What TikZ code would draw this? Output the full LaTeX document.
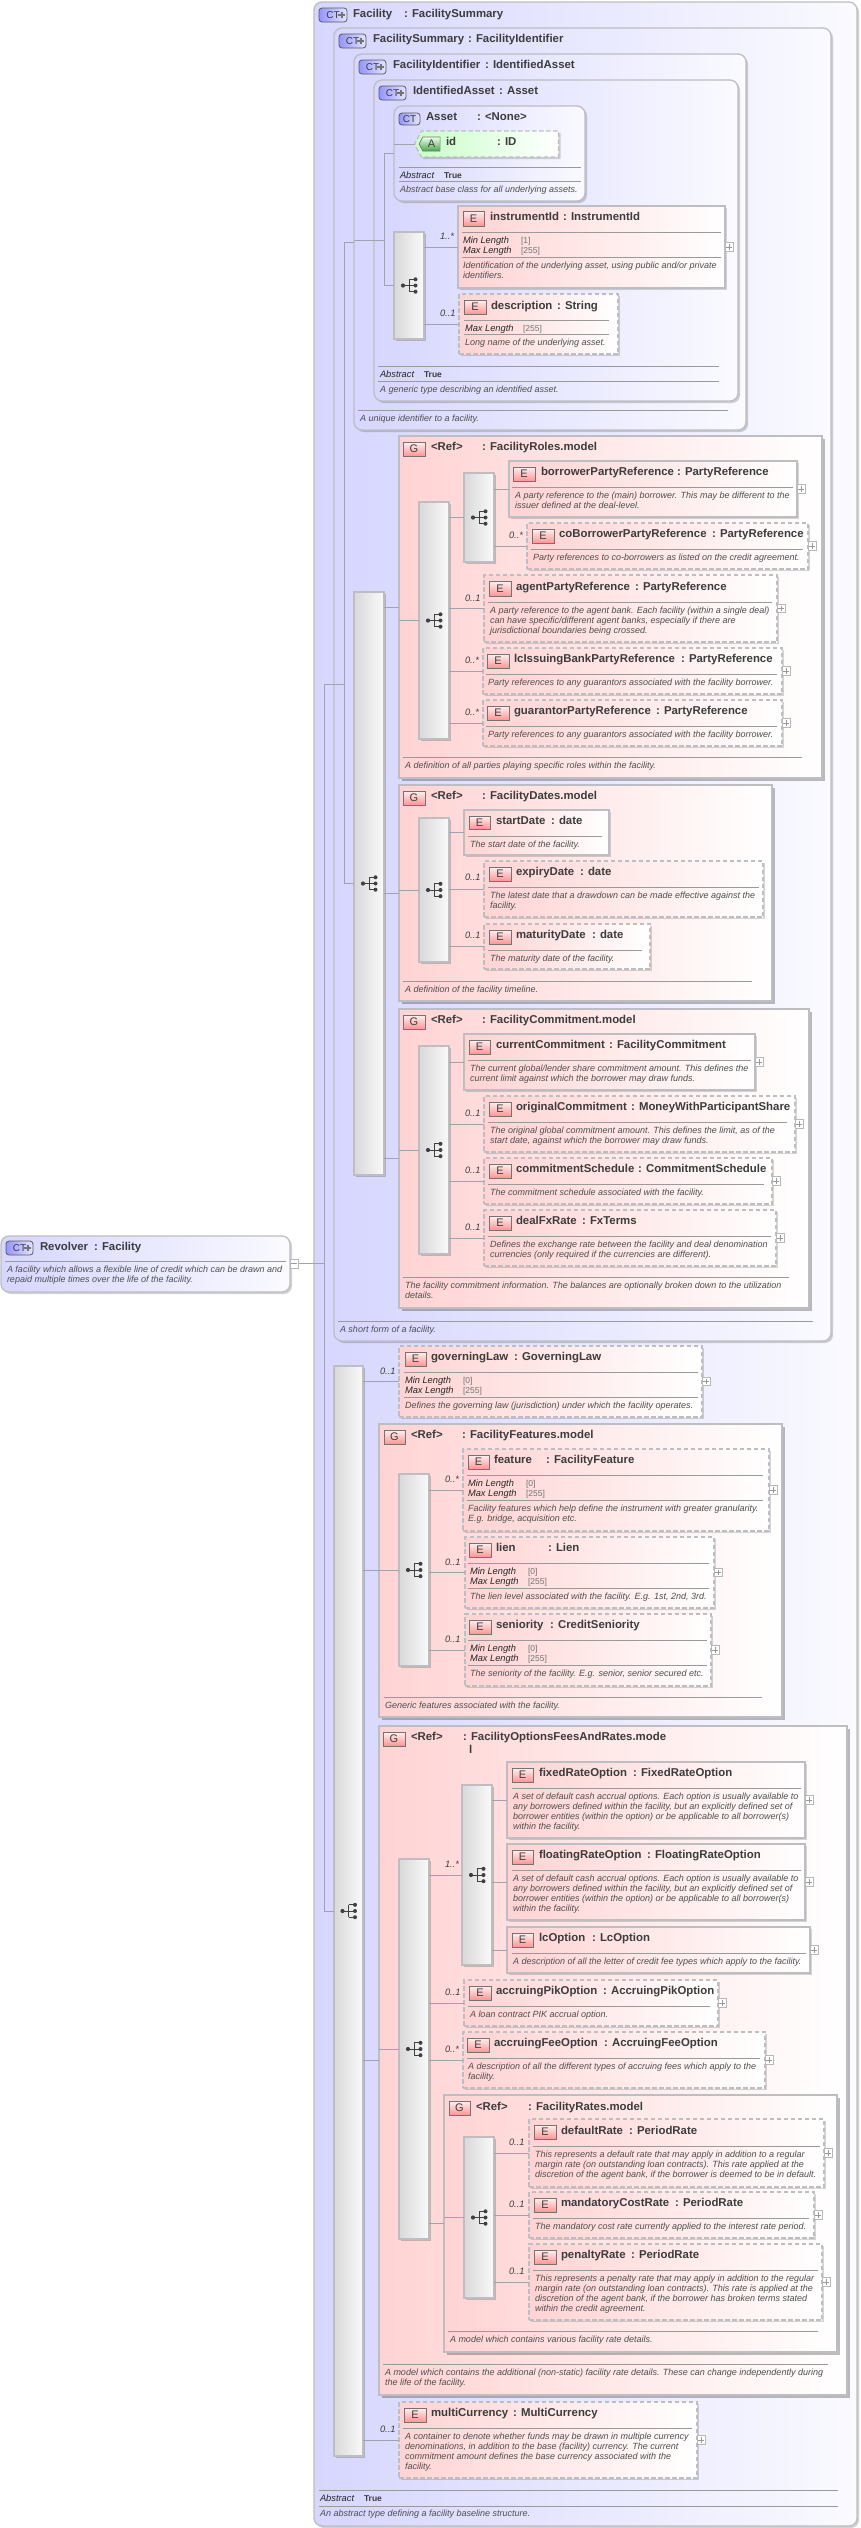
\documentclass[tikz,border=0pt]{standalone}
\usepackage{fontspec}
\setmainfont{Liberation Sans}
\usetikzlibrary{shadows,shapes.symbols,calc}
\definecolor{ctL}{HTML}{D6D6FF}\definecolor{ctR}{HTML}{FAFAFF}
\definecolor{elL}{HTML}{FFD3D3}\definecolor{elR}{HTML}{FFFFFF}
\definecolor{bdr}{HTML}{BDBDC2}\definecolor{lnc}{HTML}{A2A2AE}
\definecolor{rlc}{HTML}{9A9A9A}\definecolor{ttc}{HTML}{3C3C3C}
\definecolor{dsc}{HTML}{4E4E4E}
\tikzset{
 x=1pt,y=-1pt,
 txt/.style={inner sep=0pt,outer sep=0pt,anchor=west,text height=8pt,text depth=2pt},
 ttltext/.style={txt,font=\fontsize{11.4}{12}\selectfont\bfseries,text=ttc},
 dsctext/.style={txt,font=\fontsize{9}{10}\selectfont\itshape,text=dsc},
 multext/.style={txt,font=\fontsize{9.3}{10}\selectfont\itshape,text=ttc},
 prptext/.style={txt,font=\fontsize{9.3}{10}\selectfont\itshape,text=black!85},
 valtext/.style={txt,font=\fontsize{8.5}{10}\selectfont,text=black!55},
 trutext/.style={txt,font=\fontsize{8.5}{10}\selectfont\bfseries,text=ttc},
 boxbase/.style={inner sep=0pt,outer sep=0pt,anchor=north west},
 cont/.style={boxbase,draw=bdr,line width=1.3pt,rounded corners=8pt,left color=ctL,right color=ctR,
   drop shadow={shadow xshift=2pt,shadow yshift=-2pt,opacity=.18,fill=black}},
 grp/.style={boxbase,draw=bdr,line width=1.3pt,left color=elL,right color=elR,
   drop shadow={shadow xshift=2.5pt,shadow yshift=-2.5pt,opacity=.26,fill=black}},
 elemS/.style={boxbase,draw=bdr,line width=1.3pt,left color=elL,right color=elR,
   drop shadow={shadow xshift=2pt,shadow yshift=-2pt,opacity=.16,fill=black}},
 elemD/.style={elemS,dash pattern=on 4.5pt off 2.5pt},
 seqbar/.style={boxbase,draw=bdr,line width=1.2pt,left color=black!15,right color=black!2,
   drop shadow={shadow xshift=1.5pt,shadow yshift=-1.5pt,opacity=.2,fill=black}},
 conn/.style={draw=lnc,line width=.8pt},
 rulel/.style={draw=rlc,line width=.7pt},
 eicon/.style={boxbase,draw=black!55,line width=.7pt,top color=red!6,bottom color=red!42,
   font=\fontsize{11}{12}\selectfont,text=ttc},
 ctbase/.style={boxbase,draw=black!65,line width=.8pt,rounded corners=3pt,left color=blue!42!white,right color=blue!10!white,
   font=\fontsize{10}{12}\selectfont,text=ttc},
 ctplus/.style={ctbase,path picture={
   \draw[line width=2pt,black!55] ([xshift=-8.6pt]path picture bounding box.east) -- ([xshift=-2.4pt]path picture bounding box.east);
   \draw[line width=2pt,black!55] ([xshift=-5.5pt,yshift=3.1pt]path picture bounding box.east) -- ([xshift=-5.5pt,yshift=-3.1pt]path picture bounding box.east);}},
 plusbtn/.style={inner sep=0pt,outer sep=0pt,anchor=west,draw=black!28,line width=.6pt,fill=white,minimum width=8.5pt,minimum height=8.5pt,
   path picture={
   \draw[black!40,line width=.6pt] ([xshift=-2.8pt]path picture bounding box.center) -- ([xshift=2.8pt]path picture bounding box.center);
   \draw[black!40,line width=.6pt] ([yshift=-2.8pt]path picture bounding box.center) -- ([yshift=2.8pt]path picture bounding box.center);}},
 minusbtn/.style={inner sep=0pt,outer sep=0pt,anchor=west,draw=black!28,line width=.6pt,fill=white,minimum width=8.5pt,minimum height=9pt,
   path picture={
   \draw[black!40,line width=.6pt] ([xshift=-2.8pt]path picture bounding box.center) -- ([xshift=2.8pt]path picture bounding box.center);}},
 seqicon/.pic={
   \draw[black!75,line width=.9pt] (-6,0) -- (6.5,0) (0,-6.2) -- (0,6.2) (0,-6.2) -- (6.5,-6.2) (0,6.2) -- (6.5,6.2);
   \fill[black!75] (-6,0) circle[radius=2.1] (6.5,0) circle[radius=2] (6.5,-6.2) circle[radius=2] (6.5,6.2) circle[radius=2];
 },
}
\newcount\tcnt
\newcommand{\xLbl}[4]{\global\advance\tcnt by 1 \node[#1] (t\the\tcnt) at (#2,#3) {#4};}
\newcommand{\xBox}[6]{\node[#2,minimum width={(#5-#3)*1pt},minimum height={(#6-#4)*1pt}] (#1) at (#3,#4) {};}
\newcommand{\xBar}[5]{\xBox{#1}{seqbar}{#2}{#3}{#4}{#5}\pic at (#1.center) {seqicon};}
\newcommand{\xIc}[6][eicon]{\global\advance\tcnt by 1 \node[#1,minimum width={(#4-#3)*1pt},minimum height={(#6-#5)*1pt}] (i\the\tcnt) at (#3,#5) {#2};}
\newcommand{\xTit}[5]{\xLbl{ttltext}{#1}{#2}{#3}\xLbl{ttltext}{#4}{#2}{: #5}}
\newcommand{\xDs}[3]{\xLbl{dsctext}{#1}{#2}{#3}}
\newcommand{\xMu}[3]{\xLbl{multext}{#1}{#2}{#3}}
\newcommand{\xPp}[5]{\xLbl{prptext}{#1}{#2}{#3}\xLbl{valtext}{#4}{#2}{#5}}
\newcommand{\xAb}[3]{\xLbl{prptext}{#1}{#2}{Abstract}\xLbl{trutext}{#3}{#2}{True}}
\newcommand{\xRu}[3]{\draw[rulel] (#1,#3) -- (#2,#3);}
\newcommand{\xCn}[2]{\draw[conn] (#1.east |- #2.west) -- (#2.west);}
\newcommand{\xCg}[2]{\draw[conn] (#1.west |- #2.west) -- (#2.west);}
\newcommand{\xPb}[1]{\node[plusbtn] (#1btn) at (#1.east) {};}
\begin{document}
\begin{tikzpicture}
\useasboundingbox (0,0) rectangle (861,2528);
% ---------- Revolver
\xBox{revolver}{cont}{1}{1236}{290}{1292}
\node[minusbtn] (rvbtn) at (290,1263.5) {};
\xIc[ctplus]{CT\hspace{7pt}}{6}{33}{1241}{1255}
\xTit{40}{1247}{Revolver}{94}{Facility}
\xRu{5}{286}{1261}
\xDs{7}{1269}{A facility which allows a flexible line of credit which can be drawn and}
\xDs{7}{1279}{repaid multiple times over the life of the facility.}
% ---------- containers
\xBox{facility}{cont}{314}{2}{857}{2526}
\xBox{fsum}{cont}{334}{28}{831}{1341}
\xBox{fident}{cont}{354}{54}{746}{430}
\xBox{iasset}{cont}{374}{80}{738}{401}
\xBox{asset}{cont}{394}{106}{585}{201}
\xIc[ctplus]{CT\hspace{7pt}}{319}{347}{8}{22}
\xTit{353}{14}{Facility}{404}{FacilitySummary}
\xIc[ctplus]{CT\hspace{7pt}}{339}{366}{34}{48}
\xTit{373}{39.5}{FacilitySummary}{468}{FacilityIdentifier}
\xIc[ctplus]{CT\hspace{7pt}}{359}{386}{60}{74}
\xTit{393}{65.5}{FacilityIdentifier}{485}{IdentifiedAsset}
\xIc[ctplus]{CT\hspace{7pt}}{379}{406}{86}{100}
\xTit{413}{91.5}{IdentifiedAsset}{499}{Asset}
\xIc[ctbase]{CT}{399}{420}{113}{125}
\xTit{426}{117.5}{Asset}{477}{<None>}
% attribute id
\node[signal,signal to=west,signal pointer angle=124,inner sep=0pt,outer sep=0pt,draw=bdr,line width=1.2pt,dash pattern=on 4.5pt off 2.5pt,
  left color=green!22,right color=white,minimum width=144pt,minimum height=26pt,
  drop shadow={shadow xshift=2pt,shadow yshift=-2pt,opacity=.16,fill=black}] (attrid) at (490,144) {};
\node[signal,signal to=west,signal pointer angle=124,inner sep=0pt,outer sep=0pt,draw=black!55,line width=.7pt,top color=green!8,bottom color=green!50!black!70,
  minimum width=21pt,minimum height=14pt,font=\fontsize{11}{12}\selectfont,text=ttc] (attricon) at (431.5,144) {\rule{0pt}{6pt}A};
\xTit{446}{142.5}{id}{497}{ID}
\xRu{399}{581}{167.5}
\xAb{400}{175}{444}
\xRu{399}{581}{181.5}
\xDs{400}{189}{Abstract base class for all underlying assets.}
% seq 0
\xBar{bar0}{394}{232}{424}{339}
\xBox{instrumentId}{elemS}{458}{206}{725}{288}
\xPb{instrumentId}
\xIc{E}{463}{484}{211}{226}
\xTit{490}{217.5}{instrumentId}{563}{InstrumentId}
\xRu{462}{721}{232.5}
\xPp{463}{240}{Min Length}{521}{[1]}
\xPp{463}{250}{Max Length}{521}{[255]}
\xRu{462}{721}{257.5}
\xDs{463}{265}{Identification of the underlying asset, using public and/or private}
\xDs{463}{275}{identifiers.}
\xMu{440}{236}{1..*}
\xBox{description}{elemD}{459}{294}{618}{354}
\xIc{E}{464}{486}{300}{314}
\xTit{491}{306}{description}{557}{String}
\xRu{464}{609}{320.5}
\xPp{465}{328}{Max Length}{523}{[255]}
\xRu{464}{609}{334.5}
\xDs{465}{342}{Long name of the underlying asset.}
\xMu{440}{313}{0..1}
\xRu{378}{719}{366.5}
\xAb{380}{374}{424}
\xRu{378}{719}{381.5}
\xDs{380}{389}{A generic type describing an identified asset.}
\xRu{358}{728}{410}
\xDs{360}{418}{A unique identifier to a facility.}
% ---------- first big sequence
\xBar{bar1}{354}{592}{384}{1175}
% FacilityRoles
\xBox{rolesG}{grp}{399}{436}{822}{778}
\xIc{G}{403}{425}{442}{456}
\xTit{431}{447.5}{<Ref>}{482}{FacilityRoles.model}
\xBar{bar2}{419}{502}{449}{739}
\xBar{bar3}{464}{473}{494}{562}
\xBox{borrower}{elemS}{509}{461}{797}{517}\xPb{borrower}
\xIc{E}{513}{535}{467}{481}
\xTit{541}{472.5}{borrowerPartyReference}{677}{PartyReference}
\xRu{512}{793}{487.5}
\xDs{515}{495}{A party reference to the (main) borrower. This may be different to the}
\xDs{515}{505}{issuer defined at the deal-level.}
\xBox{coBorrower}{elemD}{527}{523}{808}{569}\xPb{coBorrower}
\xIc{E}{532}{554}{529}{543}
\xTit{559}{534.5}{coBorrowerPartyReference}{712}{PartyReference}
\xRu{531}{803}{549.5}
\xDs{533}{557}{Party references to co-borrowers as listed on the credit agreement.}
\xMu{509}{535}{0..*}
\xBox{agent}{elemD}{484}{575}{777}{642}\xPb{agent}
\xIc{E}{489}{511}{581}{596}
\xTit{516}{587.5}{agentPartyReference}{635}{PartyReference}
\xRu{488}{772}{602.5}
\xDs{490}{610}{A party reference to the agent bank. Each facility (within a single deal)}
\xDs{490}{620}{can have specific/different agent banks, especially if there are}
\xDs{490}{630}{jurisdictional boundaries being crossed.}
\xMu{465}{598}{0..1}
\xBox{lcIssuing}{elemD}{483}{648}{782}{694}\xPb{lcIssuing}
\xIc{E}{487}{509}{654}{668}
\xTit{514}{659.5}{lcIssuingBankPartyReference}{681}{PartyReference}
\xRu{486}{777}{674.5}
\xDs{488}{682}{Party references to any guarantors associated with the facility borrower.}
\xMu{465}{660}{0..*}
\xBox{guarantor}{elemD}{483}{700}{782}{746}\xPb{guarantor}
\xIc{E}{487}{509}{706}{720}
\xTit{514}{711.5}{guarantorPartyReference}{656}{PartyReference}
\xRu{486}{777}{726.5}
\xDs{488}{734}{Party references to any guarantors associated with the facility borrower.}
\xMu{465}{712}{0..*}
\xRu{403}{802}{757.5}
\xDs{405}{765}{A definition of all parties playing specific roles within the facility.}
% FacilityDates
\xBox{datesG}{grp}{399}{785}{772}{1001}
\xIc{G}{403}{425}{791}{805}
\xTit{431}{796.5}{<Ref>}{482}{FacilityDates.model}
\xBar{bar4}{419}{818}{449}{962}
\xBox{startDate}{elemS}{464}{810}{609}{855}
\xIc{E}{469}{490}{816}{829}
\xTit{496}{821.5}{startDate}{551}{date}
\xRu{468}{602}{836.5}
\xDs{470}{844}{The start date of the facility.}
\xBox{expiryDate}{elemD}{484}{861}{763}{917}
\xIc{E}{489}{511}{867}{881}
\xTit{516}{872.5}{expiryDate}{580}{date}
\xRu{488}{759}{887.5}
\xDs{490}{895}{The latest date that a drawdown can be made effective against the}
\xDs{490}{905}{facility.}
\xMu{465}{877.5}{0..1}
\xBox{maturityDate}{elemD}{484}{924}{650}{969}
\xIc{E}{489}{511}{930}{944}
\xTit{516}{935.5}{maturityDate}{592}{date}
\xRu{488}{642}{950.5}
\xDs{490}{958}{The maturity date of the facility.}
\xMu{465}{935}{0..1}
\xRu{403}{752}{981}
\xDs{405}{989}{A definition of the facility timeline.}
% FacilityCommitment
\xBox{commitG}{grp}{399}{1009}{809}{1308}
\xIc{G}{403}{425}{1015}{1029}
\xTit{431}{1020.5}{<Ref>}{482}{FacilityCommitment.model}
\xBar{bar5}{419}{1046}{449}{1254}
\xBox{current}{elemS}{464}{1034}{755}{1090}\xPb{current}
\xIc{E}{469}{490}{1040}{1054}
\xTit{496}{1045.5}{currentCommitment}{609}{FacilityCommitment}
\xRu{468}{751}{1060.5}
\xDs{470}{1068}{The current global/lender share commitment amount. This defines the}
\xDs{470}{1078}{current limit against which the borrower may draw funds.}
\xBox{original}{elemD}{484}{1096}{795}{1152}\xPb{original}
\xIc{E}{489}{511}{1102}{1116}
\xTit{516}{1107.5}{originalCommitment}{631}{MoneyWithParticipantShare}
\xRu{488}{787}{1122.5}
\xDs{490}{1130}{The original global commitment amount. This defines the limit, as of the}
\xDs{490}{1140}{start date, against which the borrower may draw funds.}
\xMu{465}{1113}{0..1}
\xBox{schedule}{elemD}{484}{1158}{772}{1204}\xPb{schedule}
\xIc{E}{489}{511}{1164}{1178}
\xTit{516}{1169.5}{commitmentSchedule}{638}{CommitmentSchedule}
\xRu{488}{764}{1184.5}
\xDs{490}{1192}{The commitment schedule associated with the facility.}
\xMu{465}{1170}{0..1}
\xBox{dealFx}{elemD}{484}{1210}{776}{1266}\xPb{dealFx}
\xIc{E}{489}{511}{1216}{1230}
\xTit{516}{1221.5}{dealFxRate}{582}{FxTerms}
\xRu{488}{771}{1236.5}
\xDs{490}{1244}{Defines the exchange rate between the facility and deal denomination}
\xDs{490}{1254}{currencies (only required if the currencies are different).}
\xMu{465}{1227}{0..1}
\xRu{403}{789}{1277.5}
\xDs{405}{1285}{The facility commitment information. The balances are optionally broken down to the utilization}
\xDs{405}{1295}{details.}
\xRu{338}{813}{1321}
\xDs{340}{1329}{A short form of a facility.}
% ---------- main sequence
\xBar{mainbar}{334}{1366}{363}{2456}
\xBox{governing}{elemD}{399}{1346}{702}{1417}\xPb{governing}
\xIc{E}{405}{426}{1352}{1366}
\xTit{431}{1357.5}{governingLaw}{514}{GoverningLaw}
\xRu{404}{698}{1372.5}
\xPp{405}{1380}{Min Length}{463}{[0]}
\xPp{405}{1390}{Max Length}{463}{[255]}
\xRu{404}{698}{1397.5}
\xDs{405}{1405}{Defines the governing law (jurisdiction) under which the facility operates.}
\xMu{380}{1371}{0..1}
% FacilityFeatures
\xBox{featG}{grp}{379}{1424}{782}{1717}
\xIc{G}{384}{405}{1430}{1444}
\xTit{411}{1435.5}{<Ref>}{462}{FacilityFeatures.model}
\xBar{bar6}{399}{1474}{429}{1666}
\xBox{feature}{elemD}{463}{1449}{769}{1531}\xPb{feature}
\xIc{E}{468}{489}{1455}{1469}
\xTit{494}{1460.5}{feature}{546}{FacilityFeature}
\xRu{467}{763}{1475.5}
\xPp{468}{1483}{Min Length}{526}{[0]}
\xPp{468}{1493}{Max Length}{526}{[255]}
\xRu{467}{763}{1500.5}
\xDs{468}{1508}{Facility features which help define the instrument with greater granularity.}
\xDs{468}{1518}{E.g. bridge, acquisition etc.}
\xMu{445}{1479}{0..*}
\xBox{lien}{elemD}{465}{1537}{714}{1608}\xPb{lien}
\xIc{E}{469}{491}{1543}{1557}
\xTit{496}{1548.5}{lien}{548}{Lien}
\xRu{468}{709}{1563.5}
\xPp{470}{1571}{Min Length}{528}{[0]}
\xPp{470}{1581}{Max Length}{528}{[255]}
\xRu{468}{709}{1588.5}
\xDs{470}{1596}{The lien level associated with the facility. E.g. 1st, 2nd, 3rd.}
\xMu{445}{1562}{0..1}
\xBox{seniority}{elemD}{465}{1614}{711}{1686}\xPb{seniority}
\xIc{E}{469}{491}{1620}{1634}
\xTit{496}{1625.5}{seniority}{550}{CreditSeniority}
\xRu{468}{707}{1640.5}
\xPp{470}{1648}{Min Length}{528}{[0]}
\xPp{470}{1658}{Max Length}{528}{[255]}
\xRu{468}{707}{1665.5}
\xDs{470}{1673}{The seniority of the facility. E.g. senior, senior secured etc.}
\xMu{445}{1639}{0..1}
\xRu{384}{762}{1697.5}
\xDs{385}{1705}{Generic features associated with the facility.}
% FacilityOptionsFeesAndRates
\xBox{optG}{grp}{379}{1726}{847}{2395}
\xIc{G}{383}{405}{1732}{1746}
\xTit{411}{1737.5}{<Ref>}{463}{FacilityOptionsFeesAndRates.mode}
\xLbl{ttltext}{469}{1750}{l}
\xBar{bar7}{399}{1859}{429}{2239}
\xBar{bar8}{462}{1785}{492}{1965}
\xBox{fixed}{elemS}{507}{1762}{805}{1838}\xPb{fixed}
\xIc{E}{512}{533}{1768}{1782}
\xTit{539}{1773.5}{fixedRateOption}{633}{FixedRateOption}
\xRu{512}{801}{1788.5}
\xDs{513}{1796}{A set of default cash accrual options. Each option is usually available to}
\xDs{513}{1806}{any borrowers defined within the facility, but an explicitly defined set of}
\xDs{513}{1816}{borrower entities (within the option) or be applicable to all borrower(s)}
\xDs{513}{1826}{within the facility.}
\xBox{floating}{elemS}{507}{1844}{805}{1920}\xPb{floating}
\xIc{E}{512}{533}{1850}{1864}
\xTit{539}{1855.5}{floatingRateOption}{647}{FloatingRateOption}
\xRu{512}{801}{1870.5}
\xDs{513}{1878}{A set of default cash accrual options. Each option is usually available to}
\xDs{513}{1888}{any borrowers defined within the facility, but an explicitly defined set of}
\xDs{513}{1898}{borrower entities (within the option) or be applicable to all borrower(s)}
\xDs{513}{1908}{within the facility.}
\xBox{lcopt}{elemS}{507}{1927}{810}{1973}\xPb{lcopt}
\xIc{E}{512}{533}{1933}{1947}
\xTit{539}{1938.5}{lcOption}{592}{LcOption}
\xRu{512}{806}{1953.5}
\xDs{513}{1961}{A description of all the letter of credit fee types which apply to the facility.}
\xMu{445}{1864}{1..*}
\xBox{pik}{elemD}{464}{1980}{718}{2026}\xPb{pik}
\xIc{E}{469}{491}{1986}{2000}
\xTit{496}{1991.5}{accruingPikOption}{603}{AccruingPikOption}
\xRu{468}{710}{2006.5}
\xDs{470}{2014}{A loan contract PIK accrual option.}
\xMu{445}{1992}{0..1}
\xBox{fee}{elemD}{463}{2032}{765}{2088}\xPb{fee}
\xIc{E}{467}{489}{2038}{2052}
\xTit{494}{2043.5}{accruingFeeOption}{604}{AccruingFeeOption}
\xRu{467}{760}{2058.5}
\xDs{468}{2066}{A description of all the different types of accruing fees which apply to the}
\xDs{468}{2076}{facility.}
\xMu{445}{2049}{0..*}
% FacilityRates
\xBox{ratesG}{grp}{444}{2095}{837}{2352}
\xIc{G}{449}{470}{2101}{2115}
\xTit{476}{2107}{<Ref>}{528}{FacilityRates.model}
\xBar{bar9}{464}{2137}{494}{2298}
\xBox{default}{elemD}{529}{2119}{824}{2187}\xPb{default}
\xIc{E}{534}{556}{2125}{2139}
\xTit{561}{2131}{defaultRate}{629}{PeriodRate}
\xRu{533}{820}{2146.5}
\xDs{535}{2154}{This represents a default rate that may apply in addition to a regular}
\xDs{535}{2164}{margin rate (on outstanding loan contracts). This rate applied at the}
\xDs{535}{2174}{discretion of the agent bank, if the borrower is deemed to be in default.}
\xMu{509}{2142}{0..1}
\xBox{mandatory}{elemD}{529}{2192}{814}{2238}\xPb{mandatory}
\xIc{E}{534}{556}{2198}{2212}
\xTit{561}{2203.5}{mandatoryCostRate}{675}{PeriodRate}
\xRu{533}{809}{2218.5}
\xDs{535}{2226}{The mandatory cost rate currently applied to the interest rate period.}
\xMu{509}{2204}{0..1}
\xBox{penalty}{elemD}{529}{2244}{822}{2320}\xPb{penalty}
\xIc{E}{534}{556}{2250}{2264}
\xTit{561}{2255.5}{penaltyRate}{631}{PeriodRate}
\xRu{533}{818}{2270.5}
\xDs{535}{2278}{This represents a penalty rate that may apply in addition to the regular}
\xDs{535}{2288}{margin rate (on outstanding loan contracts). This rate is applied at the}
\xDs{535}{2298}{discretion of the agent bank, if the borrower has broken terms stated}
\xDs{535}{2308}{within the credit agreement.}
\xMu{509}{2271}{0..1}
\xRu{448}{818}{2331.5}
\xDs{450}{2339}{A model which contains various facility rate details.}
\xRu{383}{828}{2364.5}
\xDs{385}{2372}{A model which contains the additional (non-static) facility rate details. These can change independently during}
\xDs{385}{2382}{the life of the facility.}
% multiCurrency
\xBox{multi}{elemD}{399}{2402}{697}{2478}\xPb{multi}
\xIc{E}{404}{426}{2408}{2422}
\xTit{431}{2413.5}{multiCurrency}{513}{MultiCurrency}
\xRu{403}{692}{2428.5}
\xDs{405}{2436}{A container to denote whether funds may be drawn in multiple currency}
\xDs{405}{2446}{denominations, in addition to the base (facility) currency. The current}
\xDs{405}{2456}{commitment amount defines the base currency associated with the}
\xDs{405}{2466}{facility.}
\xMu{380}{2429}{0..1}
\xRu{319}{838}{2490.5}
\xAb{320}{2498}{364}
\xRu{319}{838}{2506}
\xDs{320}{2513}{An abstract type defining a facility baseline structure.}
% ---------- connectors
\coordinate (busB) at (324.3,684);
\coordinate (busA) at (344.3,242);
\coordinate (busC) at (384.5,240);
\draw[conn] (rvbtn.east) -- (busB |- rvbtn.east);
\draw[conn] (busB |- fsum.west) -- (busB |- mainbar.west) -- (mainbar.west);
\draw[conn] (busB |- fsum.west) -- (busA |- fsum.west);
\draw[conn] (fident.west) -- (busA |- fident.west) -- (busA |- bar1.west) -- (bar1.west);
\draw[conn] (fident.west |- iasset.west) -- (busC |- iasset.west);
\draw[conn] (asset.west) -- (busC |- asset.west) -- (busC |- bar0.west) -- (bar0.west);
\draw[conn] (asset.west |- attrid.west) -- (attrid.west);
\xCn{bar0}{instrumentId}\xCn{bar0}{description}
\xCn{bar1}{rolesG}\xCn{bar1}{datesG}\xCn{bar1}{commitG}
\xCg{rolesG}{bar2}\xCg{datesG}{bar4}\xCg{commitG}{bar5}
\xCn{bar2}{bar3}\xCn{bar3}{borrower}\xCn{bar3}{coBorrower}
\xCn{bar2}{agent}\xCn{bar2}{lcIssuing}\xCn{bar2}{guarantor}
\xCn{bar4}{startDate}\xCn{bar4}{expiryDate}\xCn{bar4}{maturityDate}
\xCn{bar5}{current}\xCn{bar5}{original}\xCn{bar5}{schedule}\xCn{bar5}{dealFx}
\xCn{mainbar}{governing}\xCn{mainbar}{featG}\xCn{mainbar}{optG}\xCn{mainbar}{multi}
\xCg{featG}{bar6}\xCn{bar6}{feature}\xCn{bar6}{lien}\xCn{bar6}{seniority}
\xCg{optG}{bar7}\xCn{bar7}{bar8}\xCn{bar8}{fixed}\xCn{bar8}{floating}\xCn{bar8}{lcopt}
\xCn{bar7}{pik}\xCn{bar7}{fee}\xCn{bar7}{ratesG}
\xCg{ratesG}{bar9}\xCn{bar9}{default}\xCn{bar9}{mandatory}\xCn{bar9}{penalty}
\end{tikzpicture}
\end{document}
